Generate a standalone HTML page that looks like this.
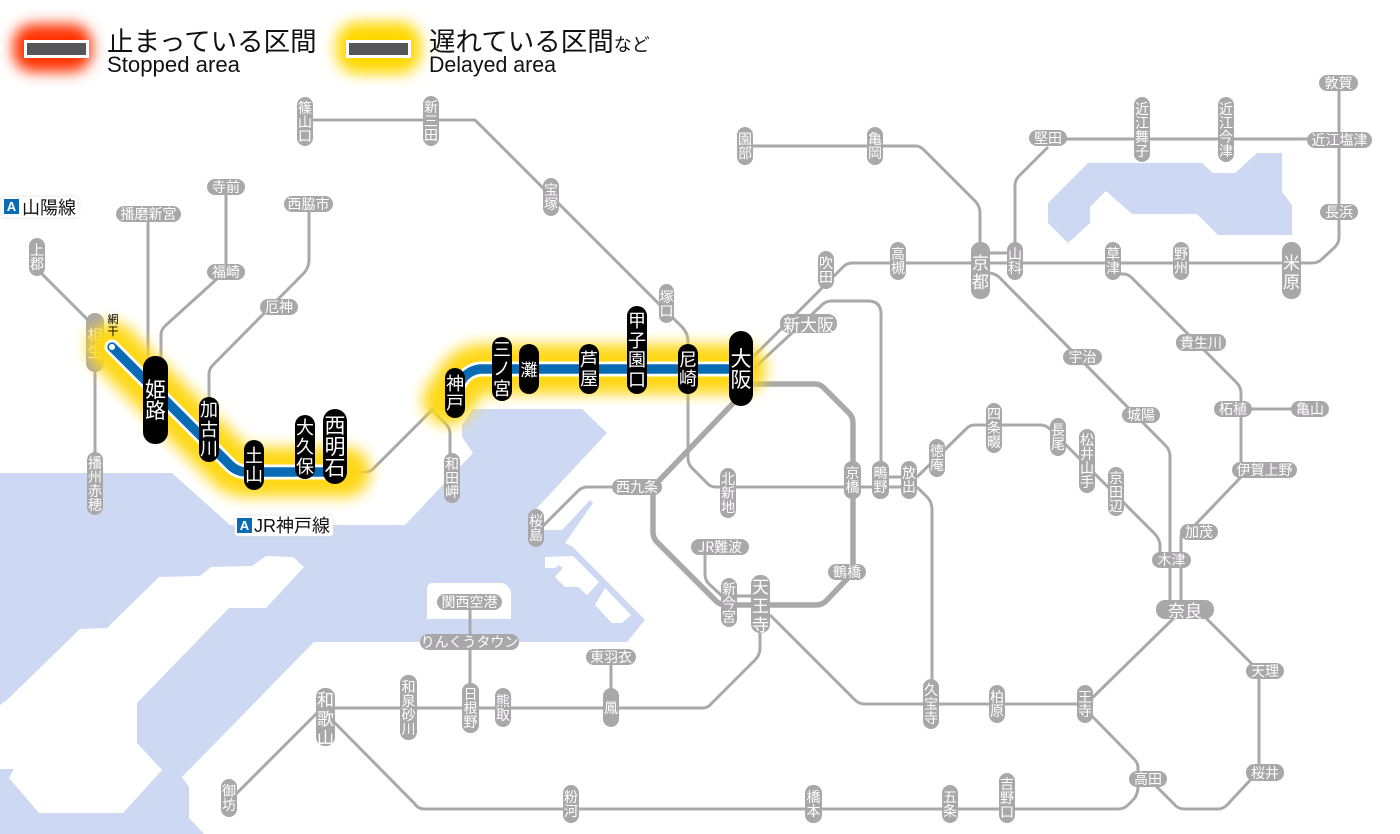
<!DOCTYPE html>
<html lang="ja"><head><meta charset="utf-8"><title>路線図</title>
<style>
html,body{margin:0;padding:0;background:#fff}
#m{position:relative;width:1400px;height:834px;overflow:hidden;background:#fff;font-family:"Liberation Sans","Noto Sans CJK JP",sans-serif}
svg{position:absolute;left:0;top:0}
.g,.b{position:absolute;display:flex;align-items:center;justify-content:center;text-align:center;color:#fff;box-sizing:border-box;white-space:nowrap;font-family:"Noto Sans CJK JP",sans-serif}
.g{background:#a9a7aa;border-radius:8px;font-size:14px;line-height:16px}
.v{line-height:14px}
.h{font-size:17px;line-height:19px;border-radius:9px}
.b{background:#000;border-radius:10px;font-size:18px;line-height:19.500px}
.w{font-size:21px;line-height:21px;border-radius:12px}
.l{position:absolute;white-space:nowrap;color:#111}
</style></head><body><div id="m">
<svg width="1400" height="834" viewBox="0 0 1400 834">
<defs>
<filter id="f1" filterUnits="userSpaceOnUse" x="0" y="0" width="1400" height="834"><feGaussianBlur stdDeviation="7"/></filter>
<filter id="f2" filterUnits="userSpaceOnUse" x="0" y="0" width="500" height="120"><feGaussianBlur stdDeviation="7"/></filter>
</defs>
<path fill="#cdd9f3" d="M0,473L172,473L230,525L405,525L473,453L462,437L462,425L473,409L582,409L607,433L537,508L536,530L562,530L590,500L593,503L565,543L573,547L645,620L627,642L314,642L182,777L189,787L189,818L204,834L0,834Z"/>
<path fill="#fff" d="M304,567L293,557L266,556L252,566L211,567L200,576L159,577L107,628L80,629L7,700L0,705L0,769L14,769L9,778L39,813L123,813L162,770L137,743L137,703L229,608L266,608Z"/>
<path fill="#fff" d="M545,557L573,556L599,582L587,595L578,587L565,587L555,577L563,568L559,565L555,568L545,568Z"/>
<path fill="#fff" d="M605,588L631,615L622,623L612,623L595,605Z"/>
<path fill="#fff" d="M433,583L500,583Q508,583 511,592L511,619L427,619L427,589Q427,583 433,583Z"/>
<path fill="#cdd9f3" d="M1088,163L1202,163L1213,173L1235,173L1257,153L1282,153L1282,192L1292,205L1292,235L1218,235L1197,214L1132,214L1106,191L1090,207L1090,223L1068,243L1048,223L1048,203Z"/>
<g fill="none" stroke="#aaa8ab" stroke-width="3" stroke-linejoin="round">
<path d="M305,120H475L682,327Q688,333 688,342V458Q688,464 692,468L708,484Q711,487 716,487H908"/>
<path d="M917,487L927,497Q932,502 932,510V690"/>
<path d="M232,798L325,705"/>
<path d="M325,708H703Q707,708 710,705L755,660Q760,655 760,648V620"/>
<path d="M330,718L414,803Q418,809 424,809H1118Q1124,809 1128,805L1134,799Q1138,794 1138,786V768Q1138,763 1134,759L1088,712"/>
<path d="M1150,780L1174,804Q1178,809 1184,809H1218Q1223,809 1227,805L1255,775"/>
<path d="M1259,670V775"/>
<path d="M1253,665L1202,614"/>
<path d="M1176,616L1086,704"/>
<path d="M770,615L855,700Q859,704 865,704H1086"/>
<path d="M917,477L967,428Q970,425 975,425H1040Q1046,425 1050,429L1154,533Q1160,539 1160,546V556"/>
<path d="M980,263H1312Q1318,263 1322,259L1335,247Q1339,243 1339,237V83"/>
<path d="M990,273Q996,274 1000,278L1165,445Q1170,450 1170,456V605"/>
<path d="M1113,274H1124Q1128,274 1132,278L1236,382Q1241,387 1241,393V470"/>
<path d="M1242,476L1195,525"/>
<path d="M1196,532H1186Q1181,532 1181,538V605"/>
<path d="M1241,409H1310"/>
<path d="M1050,139H1339"/>
<path d="M1015,250V186Q1015,180 1019,176L1048,147"/>
<path d="M745,146H916Q920,146 924,150L976,202Q980,207 980,213V245"/>
<path d="M985,253H1012"/>
<path d="M750,360L843,267Q847,263 852,263H980"/>
<path d="M750,372L823,304Q827,301 832,301H868Q881,301 881,314V470"/>
<path d="M705,548V574Q705,580 709,584L722,596L760,596"/>
<path d="M620,487H587Q582,487 578,491L536,533"/>
<path d="M345,472H365Q370,472 374,468L448,394"/>
<path d="M430,408L446,424Q450,428 450,434V460"/>
<path d="M36,268L95,327"/>
<path d="M95,360V470"/>
<path d="M148,215V365"/>
<path d="M161,365V335Q161,330 165,326L218,278"/>
<path d="M226,190V270"/>
<path d="M309,205V260Q309,268 303,274L213,365Q209,369 209,374V405"/>
<path d="M470,605V690"/>
<path d="M611,660V700"/>
<path d="M880,477H908"/>
</g>
<g fill="none" stroke="#aaa8ab" stroke-width="5.500" stroke-linejoin="round">
<path d="M741,384H815Q820,384 824,388L849,413Q853,417 853,423V570"/>
<path d="M848,578L826,601Q822,605 816,605H726Q720,605 716,601L657,542Q653,538 653,532V487L741,395"/>
</g>
</svg>
<div class="g v" style="left:297px;top:97px;width:16px;height:49px">篠<br>山<br>口</div>
<div class="g v" style="left:423px;top:96px;width:16px;height:50px">新<br>三<br>田</div>
<div class="g v" style="left:543px;top:178px;width:16px;height:38px">宝<br>塚</div>
<div class="g v" style="left:29px;top:238px;width:16px;height:38px">上<br>郡</div>
<div class="g v" style="left:87px;top:452px;width:16px;height:63px">播<br>州<br>赤<br>穂</div>
<div class="g v" style="left:86px;top:313px;width:18px;height:59px;font-size:15px;line-height:17px;border-radius:9px">相<br>生</div>
<div class="g v" style="left:659px;top:284px;width:15px;height:39px">塚<br>口</div>
<div class="g v" style="left:818px;top:251px;width:16px;height:38px">吹<br>田</div>
<div class="g v" style="left:890px;top:242px;width:16px;height:38px">高<br>槻</div>
<div class="g v" style="left:737px;top:127px;width:16px;height:38px">園<br>部</div>
<div class="g v" style="left:867px;top:127px;width:16px;height:38px">亀<br>岡</div>
<div class="g h" style="left:971px;top:242px;width:19px;height:57px">京<br>都</div>
<div class="g v" style="left:1007px;top:242px;width:16px;height:38px">山<br>科</div>
<div class="g h" style="left:780px;top:314px;width:57px;height:19px">新大阪</div>
<div class="g" style="left:1029px;top:130px;width:38px;height:16px">堅田</div>
<div class="g v" style="left:1134px;top:97px;width:16px;height:65px">近<br>江<br>舞<br>子</div>
<div class="g v" style="left:1218px;top:97px;width:16px;height:65px">近<br>江<br>今<br>津</div>
<div class="g" style="left:1319px;top:75px;width:39px;height:16px">敦賀</div>
<div class="g" style="left:1307px;top:132px;width:65px;height:16px">近江塩津</div>
<div class="g" style="left:1320px;top:204px;width:38px;height:16px">長浜</div>
<div class="g v" style="left:1105px;top:242px;width:16px;height:38px">草<br>津</div>
<div class="g v" style="left:1173px;top:242px;width:16px;height:38px">野<br>州</div>
<div class="g h" style="left:1282px;top:242px;width:19px;height:57px">米<br>原</div>
<div class="g" style="left:1063px;top:349px;width:39px;height:16px">宇治</div>
<div class="g" style="left:1122px;top:407px;width:38px;height:16px">城陽</div>
<div class="g" style="left:1176px;top:334px;width:50px;height:17px">貴生川</div>
<div class="g" style="left:1214px;top:401px;width:38px;height:16px">柘植</div>
<div class="g" style="left:1291px;top:401px;width:38px;height:16px">亀山</div>
<div class="g" style="left:1232px;top:462px;width:65px;height:16px">伊賀上野</div>
<div class="g" style="left:1180px;top:524px;width:38px;height:16px">加茂</div>
<div class="g" style="left:1152px;top:552px;width:39px;height:16px">木津</div>
<div class="g h" style="left:1156px;top:600px;width:58px;height:19px">奈良</div>
<div class="g v" style="left:1050px;top:418px;width:16px;height:38px">長<br>尾</div>
<div class="g v" style="left:1079px;top:429px;width:16px;height:64px">松<br>井<br>山<br>手</div>
<div class="g v" style="left:1108px;top:467px;width:16px;height:49px">京<br>田<br>辺</div>
<div class="g v" style="left:986px;top:403px;width:16px;height:50px">四<br>条<br>畷</div>
<div class="g v" style="left:929px;top:439px;width:16px;height:38px">徳<br>庵</div>
<div class="g v" style="left:901px;top:461px;width:16px;height:38px">放<br>出</div>
<div class="g v" style="left:872px;top:461px;width:17px;height:38px">鴫<br>野</div>
<div class="g v" style="left:844px;top:461px;width:17px;height:38px">京<br>橋</div>
<div class="g" style="left:828px;top:564px;width:38px;height:16px">鶴橋</div>
<div class="g v" style="left:720px;top:468px;width:16px;height:50px">北<br>新<br>地</div>
<div class="g" style="left:691px;top:539px;width:58px;height:16px">JR難波</div>
<div class="g v" style="left:721px;top:578px;width:16px;height:49px">新<br>今<br>宮</div>
<div class="g h" style="left:751px;top:575px;width:19px;height:58px">天<br>王<br>寺</div>
<div class="g" style="left:612px;top:479px;width:50px;height:16px">西九条</div>
<div class="g v" style="left:528px;top:509px;width:16px;height:38px">桜<br>島</div>
<div class="g v" style="left:444px;top:453px;width:16px;height:50px">和<br>田<br>岬</div>
<div class="g" style="left:586px;top:649px;width:50px;height:16px">東羽衣</div>
<div class="g v" style="left:603px;top:688px;width:16px;height:39px">鳳</div>
<div class="g v" style="left:495px;top:688px;width:16px;height:39px">熊<br>取</div>
<div class="g v" style="left:563px;top:785px;width:16px;height:38px">粉<br>河</div>
<div class="g v" style="left:805px;top:785px;width:17px;height:38px">橋<br>本</div>
<div class="g h" style="left:316px;top:688px;width:19px;height:58px">和<br>歌<br>山</div>
<div class="g v" style="left:400px;top:675px;width:17px;height:65px">和<br>泉<br>砂<br>川</div>
<div class="g v" style="left:462px;top:683px;width:17px;height:50px">日<br>根<br>野</div>
<div class="g v" style="left:221px;top:779px;width:16px;height:38px">御<br>坊</div>
<div class="g" style="left:437px;top:594px;width:65px;height:16px">関西空港</div>
<div class="g" style="left:420px;top:634px;width:99px;height:16px">りんくうタウン</div>
<div class="g v" style="left:923px;top:679px;width:16px;height:50px">久<br>宝<br>寺</div>
<div class="g v" style="left:989px;top:685px;width:16px;height:38px">柏<br>原</div>
<div class="g v" style="left:1077px;top:685px;width:16px;height:38px">王<br>寺</div>
<div class="g" style="left:1246px;top:663px;width:38px;height:16px">天理</div>
<div class="g" style="left:1246px;top:764px;width:38px;height:17px">桜井</div>
<div class="g" style="left:1129px;top:771px;width:38px;height:16px">高田</div>
<div class="g v" style="left:942px;top:785px;width:16px;height:38px">五<br>条</div>
<div class="g v" style="left:999px;top:773px;width:16px;height:50px">吉<br>野<br>口</div>
<div class="g" style="left:207px;top:264px;width:38px;height:16px">福崎</div>
<div class="g" style="left:207px;top:179px;width:38px;height:16px">寺前</div>
<div class="g" style="left:116px;top:206px;width:65px;height:16px">播磨新宮</div>
<div class="g" style="left:284px;top:196px;width:49px;height:16px">西脇市</div>
<div class="g" style="left:260px;top:299px;width:38px;height:16px">厄神</div>
<svg width="1400" height="834" viewBox="0 0 1400 834">
<g fill="none" stroke="#ffd814" stroke-width="50" stroke-linecap="round" stroke-linejoin="round" filter="url(#f1)">
<path d="M112,347L230,465Q237,472 247,472H345"/>
<path d="M448,400L464,377Q472,369 482,369H741"/>
</g>
<g fill="none" stroke-linecap="round" stroke-linejoin="round">
<path stroke="#fff" stroke-width="15" d="M112,347L230,465Q237,472 247,472H335"/>
<path stroke="#fff" stroke-width="15" d="M455,390L464,377Q472,369 482,369H741"/>
<path stroke="#0a6bb5" stroke-width="9.500" d="M112,347L230,465Q237,472 247,472H335"/>
<path stroke="#0a6bb5" stroke-width="9.500" d="M455,390L464,377Q472,369 482,369H741"/>
</g>
<circle cx="112" cy="347" r="3" fill="#fff"/>
<g filter="url(#f2)"><rect x="13" y="24" width="79" height="48" rx="20" fill="#ff3000"/></g>
<g filter="url(#f2)"><rect x="336" y="22" width="85" height="52" rx="22" fill="#ffd800"/></g>
<rect x="25.500" y="41.500" width="62" height="15" fill="#55555a" stroke="#fff" stroke-width="3"/>
<rect x="347.500" y="41.500" width="62" height="15" fill="#55555a" stroke="#fff" stroke-width="3"/>
<text x="107" y="72" font-family="Liberation Sans" font-size="22" fill="#111" textLength="133" lengthAdjust="spacingAndGlyphs">Stopped area</text>
<text x="429" y="72" font-family="Liberation Sans" font-size="22" fill="#111" textLength="127" lengthAdjust="spacingAndGlyphs">Delayed area</text>
</svg>
<div class="b w" style="left:143px;top:356px;width:25px;height:88px">姫<br>路</div>
<div class="b" style="left:199px;top:397px;width:20px;height:65px">加<br>古<br>川</div>
<div class="b" style="left:244px;top:440px;width:20px;height:50px">土<br>山</div>
<div class="b" style="left:295px;top:415px;width:20px;height:64px">大<br>久<br>保</div>
<div class="b w" style="left:323px;top:409px;width:24px;height:75px">西<br>明<br>石</div>
<div class="b" style="left:445px;top:368px;width:20px;height:50px">神<br>戸</div>
<div class="b" style="left:492px;top:337px;width:20px;height:64px">三<br>ノ<br>宮</div>
<div class="b" style="left:519px;top:344px;width:20px;height:50px;font-size:17px">灘</div>
<div class="b" style="left:579px;top:344px;width:20px;height:50px">芦<br>屋</div>
<div class="b" style="left:627px;top:306px;width:20px;height:88px">甲<br>子<br>園<br>口</div>
<div class="b" style="left:678px;top:344px;width:20px;height:50px">尼<br>崎</div>
<div class="b w" style="left:729px;top:331px;width:24px;height:75px">大<br>阪</div>
<div class="l" style="left:106px;top:313px;width:14px;font-size:11px;line-height:12px;text-align:center;color:#000;font-family:'Noto Sans CJK JP',sans-serif">網<br>干</div>
<div class="l" style="left:107px;top:22px;font-size:26.500px;line-height:36px;font-family:'Noto Sans CJK JP',sans-serif">止まっている区間</div>
<div class="l" style="left:429px;top:22px;font-size:26.500px;line-height:36px;font-family:'Noto Sans CJK JP',sans-serif">遅れている区間<span style="font-size:18px">など</span></div>
<div class="l" style="left:2px;top:197px;width:76px;height:20px;background:#fff;box-shadow:0 0 4px #ddd;border-radius:3px"></div>
<div class="l" style="left:4px;top:199px;width:15px;height:15px;background:#0a6bb5;color:#fff;font-size:13px;line-height:15px;text-align:center;font-weight:bold">A</div>
<div class="l" style="left:22px;top:196px;font-size:18px;line-height:22px;font-family:'Noto Sans CJK JP',sans-serif">山陽線</div>
<div class="l" style="left:235px;top:516px;width:98px;height:20px;background:#fff;box-shadow:0 0 4px #ddd;border-radius:3px"></div>
<div class="l" style="left:237px;top:518px;width:15px;height:15px;background:#0a6bb5;color:#fff;font-size:13px;line-height:15px;text-align:center;font-weight:bold">A</div>
<div class="l" style="left:254px;top:515px;font-size:18px;line-height:22px">JR神戸線</div>
</div></body></html>
